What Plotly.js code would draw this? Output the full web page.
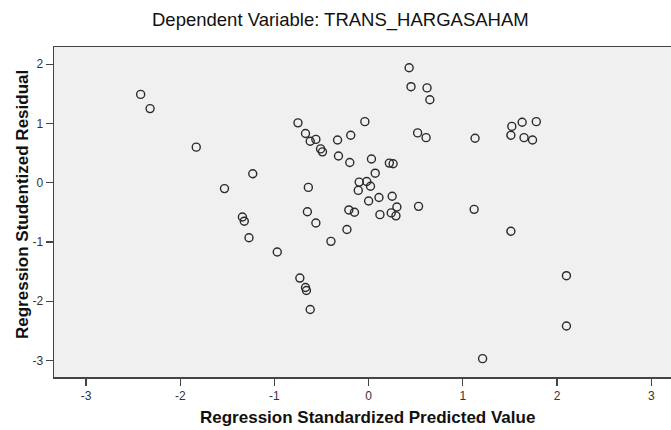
<!DOCTYPE html>
<html>
<head>
<meta charset="utf-8">
<script src="https://cdn.plot.ly/plotly-3.0.1.min.js"></script>
<style>html,body{margin:0;padding:0;background:#fff;}#chart{width:671px;height:430px;}</style>
</head>
<body>
<div id="chart"></div>
<script>
const predicted = [-2.42,-2.32,-1.83,-1.53,-1.23,-1.34,-1.32,-1.27,-0.97,-0.75,-0.67,-0.62,-0.56,-0.51,-0.49,-0.33,-0.19,-0.32,-0.20,-0.64,-0.65,-0.56,-0.21,-0.15,-0.23,-0.40,-0.73,-0.67,-0.66,-0.62,0.43,0.45,0.62,0.65,-0.04,0.52,0.61,1.13,1.52,1.63,1.78,1.51,1.65,1.74,0.03,0.22,0.26,0.07,-0.10,-0.02,0.02,-0.11,0.00,0.11,0.25,0.30,0.24,0.29,0.12,0.53,1.12,1.51,2.10,2.10,1.21];
const residual = [1.49,1.25,0.60,-0.10,0.15,-0.58,-0.65,-0.93,-1.17,1.01,0.83,0.70,0.73,0.57,0.52,0.72,0.80,0.45,0.34,-0.08,-0.49,-0.68,-0.46,-0.50,-0.79,-0.99,-1.61,-1.77,-1.82,-2.14,1.94,1.62,1.60,1.40,1.03,0.84,0.76,0.75,0.95,1.02,1.03,0.80,0.76,0.72,0.40,0.33,0.32,0.16,0.01,0.02,-0.06,-0.13,-0.31,-0.25,-0.23,-0.41,-0.51,-0.56,-0.54,-0.40,-0.45,-0.82,-1.57,-2.42,-2.97];
const xTicks = [-3,-2,-1,0,1,2,3];
const yTicks = [-3,-2,-1,0,1,2];
const chartTitle = 'Dependent Variable: TRANS_HARGASAHAM';
const xTitle = 'Regression Standardized Predicted Value';
const yTitle = 'Regression Studentized Residual';

const font = 'Arial, "Liberation Sans", sans-serif';
const trace = {
  x: predicted, y: residual, type: 'scatter', mode: 'markers',
  marker: {symbol: 'circle-open', size: 8, color: '#2a2a2a', line: {width: 1.4, color: '#2a2a2a'}},
  hoverinfo: 'none'
};
const layout = {
  width: 671, height: 430,
  margin: {l: 54, r: 0, t: 47, b: 53},
  paper_bgcolor: '#ffffff', plot_bgcolor: '#f0f0f0',
  showlegend: false,
  font: {family: font, size: 12, color: '#333'},
  xaxis: {range: [-3.34, 3.21], tickvals: xTicks, ticktext: xTicks.map(String),
    showgrid: false, zeroline: false, showline: true, mirror: true, linecolor: '#444', linewidth: 1.5,
    ticks: 'outside', ticklen: 7, tickcolor: '#444', tickwidth: 1.2, tickfont: {size: 12, color: '#333'}},
  yaxis: {range: [-3.28, 2.29], tickvals: yTicks, ticktext: yTicks.map(String),
    showgrid: false, zeroline: false, showline: true, linecolor: '#444', linewidth: 1.5,
    ticks: 'outside', ticklen: 7, tickcolor: '#444', tickwidth: 1.2, tickfont: {size: 12, color: '#333'}},
  annotations: [
    {text: chartTitle, xref: 'paper', yref: 'paper', x: (340-54)/617, y: 1, yshift: 27, xanchor: 'center', yanchor: 'middle', showarrow: false, font: {family: font, size: 18.5, color: '#111'}},
    {text: '<b>' + xTitle + '</b>', xref: 'paper', yref: 'paper', x: (367-54)/617, y: 0, yshift: -40, xanchor: 'center', yanchor: 'middle', showarrow: false, font: {family: font, size: 17, color: '#111'}},
    {text: '<b>' + yTitle + '</b>', xref: 'paper', yref: 'paper', x: 0, xshift: -32, y: (377-205)/330, xanchor: 'center', yanchor: 'middle', textangle: -90, showarrow: false, font: {family: font, size: 17, color: '#111'}}
  ]
};
Plotly.newPlot('chart', [trace], layout, {staticPlot: true, displayModeBar: false});
</script>
</body>
</html>
